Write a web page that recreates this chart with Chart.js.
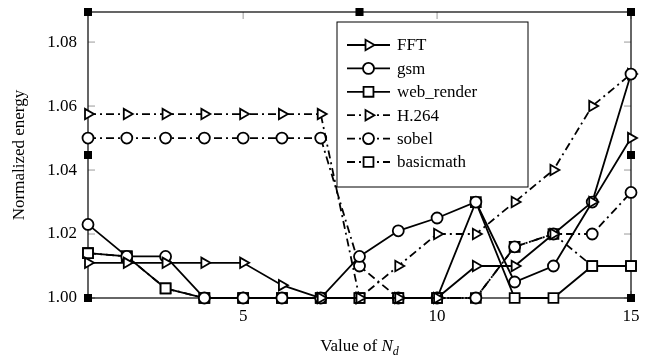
<!DOCTYPE html>
<html>
<head>
<meta charset="utf-8">
<script src="https://cdn.jsdelivr.net/npm/chart.js@4.4.1/dist/chart.umd.min.js"></script>
<style>
  html, body { margin: 0; padding: 0; background: #fff; }
</style>
</head>
<body>
<canvas id="energyChart" width="651" height="358"></canvas>
<script>
const nd = [1, 2, 3, 4, 5, 6, 7, 8, 9, 10, 11, 12, 13, 14, 15];

const fft       = [1.011, 1.011, 1.011, 1.011, 1.011, 1.004, 1.000, 1.000, 1.000, 1.000, 1.010, 1.010, 1.020, 1.030, 1.050];
const gsm       = [1.023, 1.013, 1.013, 1.000, 1.000, 1.000, 1.000, 1.013, 1.021, 1.025, 1.030, 1.005, 1.010, 1.030, 1.070];
const webRender = [1.014, 1.013, 1.003, 1.000, 1.000, 1.000, 1.000, 1.000, 1.000, 1.000, 1.030, 1.000, 1.000, 1.010, 1.010];
const h264      = [1.0575, 1.0575, 1.0575, 1.0575, 1.0575, 1.0575, 1.0575, 1.000, 1.010, 1.020, 1.020, 1.030, 1.040, 1.060, 1.070];
const sobel     = [1.050, 1.050, 1.050, 1.050, 1.050, 1.050, 1.050, 1.010, 1.000, 1.000, 1.000, 1.016, 1.020, 1.020, 1.033];
const basicmath = [1.014, 1.013, 1.003, 1.000, 1.000, 1.000, 1.000, 1.000, 1.000, 1.000, 1.000, 1.016, 1.020, 1.010, 1.010];

// the black squares sitting on the frame in the original figure
const frameX = [1, 1, 1, 8, 15, 15, 15];
const frameY = [1.000, 1.0447, 1.0894, 1.0894, 1.0894, 1.0447, 1.000];

const xTicks = [5, 10, 15];
const yTicks = [1.00, 1.02, 1.04, 1.06, 1.08];
const yMin = 1.0;
const yMax = 1.0894;

const serif = "'Liberation Serif', 'DejaVu Serif', serif";
const dashDot = [8, 4, 2, 4];

function pts(ys) {
    return nd.map((x, i) => ({ x: x, y: ys[i] }));
}

function series(label, ys, style, rotation, dash) {
    return {
        label: label,
        data: pts(ys),
        borderColor: '#000',
        borderWidth: 1.8,
        borderDash: dash,
        pointStyle: style,
        pointRotation: rotation,
        pointRadius: style === 'rect' ? 7 : (style === 'triangle' ? 6 : 5.5),
        pointBackgroundColor: '#fff',
        pointBorderColor: '#000',
        pointBorderWidth: 1.8,
        tension: 0,
        clip: 10,
    };
}

// box + inward tick marks on all four sides
const framePlugin = {
    id: 'frame',
    beforeDatasetsDraw(chart) {
        const { ctx, chartArea: a, scales } = chart;
        ctx.save();
        ctx.strokeStyle = '#9a9a9a';
        ctx.lineWidth = 1;
        ctx.beginPath();
        xTicks.forEach(v => {
            const px = scales.x.getPixelForValue(v);
            ctx.moveTo(px, a.bottom); ctx.lineTo(px, a.bottom - 7);
            ctx.moveTo(px, a.top); ctx.lineTo(px, a.top + 7);
        });
        yTicks.forEach(v => {
            const py = scales.y.getPixelForValue(v);
            ctx.moveTo(a.left, py); ctx.lineTo(a.left + 7, py);
            ctx.moveTo(a.right, py); ctx.lineTo(a.right - 7, py);
        });
        ctx.stroke();
        ctx.strokeStyle = '#000';
        ctx.lineWidth = 1.2;
        ctx.strokeRect(a.left, a.top, a.right - a.left, a.bottom - a.top);
        ctx.restore();
    },
    afterDraw(chart) {
        // x axis title with italic N and subscript d
        const { ctx, chartArea: a } = chart;
        ctx.save();
        ctx.fillStyle = '#000';
        ctx.textBaseline = 'alphabetic';
        const parts = [
            { t: 'Value of ', f: '17px ' + serif, dy: 0 },
            { t: 'N', f: 'italic 17px ' + serif, dy: 0 },
            { t: 'd', f: 'italic 12px ' + serif, dy: 4 },
        ];
        let total = 0;
        parts.forEach(p => { ctx.font = p.f; p.w = ctx.measureText(p.t).width; total += p.w; });
        let x = (a.left + a.right) / 2 - total / 2;
        parts.forEach(p => {
            ctx.font = p.f;
            ctx.fillText(p.t, x, 351 + p.dy);
            x += p.w;
        });
        ctx.restore();
    },
};

const legendPlugin = {
    id: 'boxLegend',
    afterDraw(chart) {
        const { ctx } = chart;
        const items = chart.data.datasets.filter(d => d.label);
        const box = { x: 337, y: 22, w: 191, h: 165 };
        ctx.save();
        ctx.fillStyle = '#fff';
        ctx.fillRect(box.x, box.y, box.w, box.h);
        ctx.strokeStyle = '#000';
        ctx.lineWidth = 1;
        ctx.strokeRect(box.x, box.y, box.w, box.h);
        items.forEach((d, i) => {
            const y = 45 + i * 23.4;
            ctx.strokeStyle = '#000';
            ctx.lineWidth = d.borderWidth;
            ctx.setLineDash(d.borderDash || []);
            ctx.beginPath();
            ctx.moveTo(347, y);
            ctx.lineTo(390, y);
            ctx.stroke();
            ctx.setLineDash([]);
            ctx.fillStyle = '#fff';
            ctx.strokeStyle = '#000';
            ctx.lineWidth = d.pointBorderWidth;
            Chart.helpers.drawPoint(ctx, {
                pointStyle: d.pointStyle,
                rotation: d.pointRotation || 0,
                radius: d.pointRadius,
                borderWidth: d.pointBorderWidth,
            }, 368.5, y);
            ctx.fillStyle = '#000';
            ctx.font = '17px ' + serif;
            ctx.textBaseline = 'middle';
            ctx.fillText(d.label, 397, y + 1);
        });
        ctx.restore();
    },
};

const ctx = document.getElementById('energyChart').getContext('2d');
new Chart(ctx, {
    type: 'line',
    data: {
        datasets: [
            series('FFT', fft, 'triangle', 90, []),
            series('gsm', gsm, 'circle', 0, []),
            series('web_render', webRender, 'rect', 0, []),
            series('H.264', h264, 'triangle', 90, dashDot),
            series('sobel', sobel, 'circle', 0, dashDot),
            series('basicmath', basicmath, 'rect', 0, dashDot),
            {
                data: frameX.map((x, i) => ({ x: x, y: frameY[i] })),
                showLine: false,
                pointStyle: 'rect',
                pointRadius: 5.7,
                pointBackgroundColor: '#000',
                pointBorderColor: '#000',
                pointBorderWidth: 0,
                clip: 10,
            },
        ],
    },
    options: {
        responsive: false,
        animation: false,
        events: [],
        layout: { padding: { top: 12, right: 20, left: 0, bottom: 0 } },
        plugins: { legend: { display: false }, tooltip: { enabled: false } },
        scales: {
            x: {
                type: 'linear',
                min: 1,
                max: 15,
                afterBuildTicks: s => { s.ticks = xTicks.map(v => ({ value: v })); },
                afterFit: s => { s.height = 60; s.paddingLeft = 0; s.paddingRight = 0; },
                grid: { display: false, drawTicks: false },
                border: { display: false },
                ticks: { color: '#000', padding: 8, maxRotation: 0, font: { family: serif, size: 17 } },
            },
            y: {
                min: yMin,
                max: yMax,
                afterBuildTicks: s => { s.ticks = yTicks.map(v => ({ value: v })); },
                afterFit: s => { s.width = 88; s.paddingTop = 0; s.paddingBottom = 0; },
                grid: { display: false, drawTicks: false },
                border: { display: false },
                ticks: {
                    color: '#000',
                    padding: 11,
                    font: { family: serif, size: 17 },
                    callback: v => v.toFixed(2),
                },
                title: {
                    display: true,
                    text: 'Normalized energy',
                    color: '#000',
                    padding: { top: 9, bottom: 0 },
                    font: { family: serif, size: 17 },
                },
            },
        },
    },
    plugins: [framePlugin, legendPlugin],
});
</script>
</body>
</html>
